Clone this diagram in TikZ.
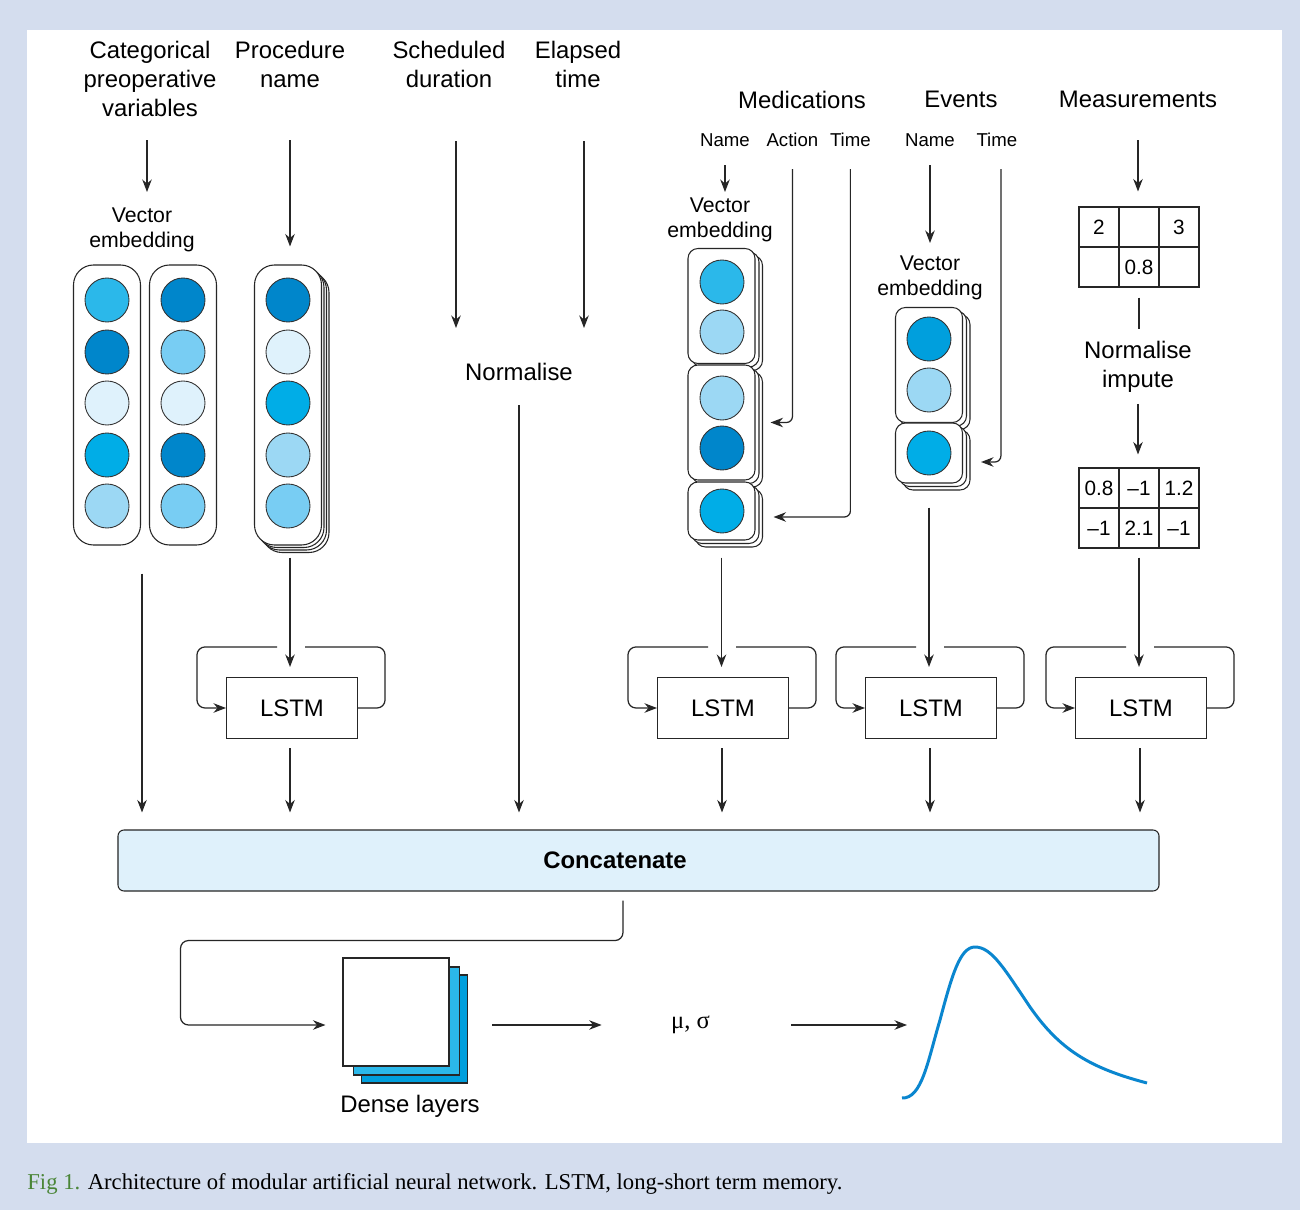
\documentclass[tikz,border=0pt]{standalone}
\usepackage{fontspec}
\setmainfont{Liberation Sans}
\newfontfamily\capserif{Liberation Serif}
\usepackage{tikz}
\usetikzlibrary{arrows.meta,positioning,shadows}
\definecolor{framebg}{HTML}{D4DDEE}
\definecolor{concatfill}{HTML}{DFF1FB}
\definecolor{capgreen}{HTML}{4A8537}
\definecolor{curveblue}{HTML}{0A86CF}
\definecolor{bluedark}{HTML}{0086CB}
\definecolor{bluecyan}{HTML}{00ADE7}
\definecolor{bluemid}{HTML}{2BB8EA}
\definecolor{bluesky}{HTML}{78CDF3}
\definecolor{bluelight}{HTML}{9CD8F4}
\definecolor{bluepale}{HTML}{DFF2FC}
\definecolor{bluedeep}{HTML}{009FDD}
\tikzset{
  head/.style={font=\fontsize{13.6}{16.5}\selectfont, align=center, inner sep=0pt, anchor=north},
  sub/.style={font=\fontsize{10.6}{12.7}\selectfont, inner sep=0pt, anchor=north},
  emb/.style={font=\fontsize{12.1}{14.2}\selectfont, align=center, inner sep=0pt, anchor=north},
  unit/.style={circle, draw=black!80, line width=0.5pt, fill=#1, minimum size=8.8mm, inner sep=0pt},
  vcol/.style={rectangle, draw=black!85, line width=0.6pt, fill=white, rounded corners=4mm,
    minimum width=13.4mm, minimum height=56mm},
  pile/.style={copy shadow={shadow xshift=1.5mm, shadow yshift=-1.5mm},
    copy shadow={shadow xshift=1mm, shadow yshift=-1mm},
    copy shadow={shadow xshift=0.5mm, shadow yshift=-0.5mm}},
  seg/.style={rectangle, draw=black!85, line width=0.6pt, fill=white, rounded corners=2mm,
    minimum width=13.4mm, minimum height=#1,
    copy shadow={shadow xshift=1.5mm, shadow yshift=-1.4mm},
    copy shadow={shadow xshift=0.8mm, shadow yshift=-0.7mm}},
  lstm/.style={rectangle, draw=black!85, line width=0.6pt, fill=white, minimum width=26.2mm,
    minimum height=12.2mm, font=\fontsize{13.6}{16}\selectfont},
  cell/.style={rectangle, draw=black!85, line width=0.6pt, minimum size=8mm, inner sep=0pt,
    font=\fontsize{11.8}{14}\selectfont},
  dense/.style={rectangle, draw=black!85, line width=0.6pt, minimum width=21.2mm,
    minimum height=21.6mm, fill=#1},
  flow/.style={-{Stealth[length=2.5mm,width=1.9mm]}, line width=0.7pt, draw=black!85},
  wire/.style={line width=0.7pt, draw=black!85, rounded corners=1.6mm},
}
% recurrent loop round an LSTM box
\newcommand{\recur}[1]{%
  \draw[wire] (#1.east) -| ([xshift=5.4mm,yshift=6mm]#1.north east) -- ([xshift=2.6mm,yshift=6mm]#1.north);
  \draw[flow, rounded corners=1.6mm] ([xshift=-3mm,yshift=6mm]#1.north) -| ([xshift=-5.8mm]#1.west) -- (#1.west);}

\begin{document}
\begin{tikzpicture}[x=0.2mm, y=-0.2mm]
    \useasboundingbox (0,0) rectangle (1300,1210);
    \fill[framebg] (0,0) rectangle (1300,1210);
    \fill[white] (27,30) rectangle (1282,1143);

    % inputs
    \node[head] (catlbl) at (150,41) {Categorical\\preoperative\\variables};
    \node[head] (proclbl) at (290,41) {Procedure\\name};
    \node[head] (schedlbl) at (449,41) {Scheduled\\duration};
    \node[head] (elapsedlbl) at (578,41) {Elapsed\\time};
    \node[head] (medlbl) at (802,91) {Medications};
    \node[head] (evtlbl) at (961,91) {Events};
    \node[head] (measlbl) at (1138,91) {Measurements};

    \node[sub] (medname) at (725,133) {Name};
    \node[sub, base right=3.2mm of medname] (medact) {Action};
    \node[sub, base right=2.2mm of medact] (medtime) {Time};
    \node[sub] (evtname) at (930,133) {Name};
    \node[sub, base right=4.2mm of evtname] (evttime) {Time};

    \node[emb] (catemb) at (142,208) {Vector\\embedding};
    \node[emb] (medemb) at (720,198) {Vector\\embedding};
    \node[emb] (evtemb) at (930,256) {Vector\\embedding};

    % categorical embedding columns
    \node[vcol] (catA) at (107,405) {};
    \node[vcol] (catB) at (183,405) {};
    \node[unit=bluemid] (catA1) at (107,300) {};
    \node[unit=bluedark] (catA2) at (107,352) {};
    \node[unit=bluepale] (catA3) at (107,403) {};
    \node[unit=bluecyan] (catA4) at (107,455) {};
    \node[unit=bluelight] (catA5) at (107,506) {};
    \node[unit=bluedark] (catB1) at (183,300) {};
    \node[unit=bluesky] (catB2) at (183,352) {};
    \node[unit=bluepale] (catB3) at (183,403) {};
    \node[unit=bluedark] (catB4) at (183,455) {};
    \node[unit=bluesky] (catB5) at (183,506) {};

    % procedure sequence
    \node[vcol, pile] (procbox) at (288,405) {};
    \node[unit=bluedark] (proc1) at (288,300) {};
    \node[unit=bluepale] (proc2) at (288,352) {};
    \node[unit=bluecyan] (proc3) at (288,403) {};
    \node[unit=bluelight] (proc4) at (288,455) {};
    \node[unit=bluesky] (proc5) at (288,506) {};

    % medications sequence
    \node[seg=23mm] (medbox1) at (721.5,306) {};
    \node[seg=23mm] (medbox2) at (721.5,422.5) {};
    \node[seg=11.6mm] (medbox3) at (721.5,511) {};
    \node[unit=bluemid] (med1) at (722,282) {};
    \node[unit=bluelight] (med2) at (722,332) {};
    \node[unit=bluelight] (med3) at (722,398) {};
    \node[unit=bluedark] (med4) at (722,448) {};
    \node[unit=bluecyan] (med5) at (722,511) {};

    % events sequence
    \node[seg=23mm] (evtbox1) at (929,365) {};
    \node[seg=12mm] (evtbox2) at (929,453) {};
    \node[unit=bluedeep] (evt1) at (929,339) {};
    \node[unit=bluelight] (evt2) at (929,390) {};
    \node[unit=bluecyan] (evt3) at (929,453) {};

    % measurements
    \node[cell] (mT11) at (1099,227) {2};
    \node[cell] (mT12) at (1139,227) {};
    \node[cell] (mT13) at (1179,227) {3};
    \node[cell] (mT21) at (1099,267) {};
    \node[cell] (mT22) at (1139,267) {0.8};
    \node[cell] (mT23) at (1179,267) {};
    \node[head] (normimp) at (1138,341) {Normalise\\impute};
    \node[cell] (nT11) at (1099,488) {0.8};
    \node[cell] (nT12) at (1139,488) {–1};
    \node[cell] (nT13) at (1179,488) {1.2};
    \node[cell] (nT21) at (1099,528) {–1};
    \node[cell] (nT22) at (1139,528) {2.1};
    \node[cell] (nT23) at (1179,528) {–1};

    \node[head] (normlbl) at (519,363) {Normalise};

    \node[lstm] (lstmP) at (292,708) {LSTM};
    \node[lstm] (lstmM) at (723,708) {LSTM};
    \node[lstm] (lstmE) at (931,708) {LSTM};
    \node[lstm] (lstmS) at (1141,708) {LSTM};

    \node[rectangle, draw=black!85, line width=0.6pt, fill=concatfill, rounded corners=1.2mm,
      minimum width=208.2mm, minimum height=12.2mm, font=\bfseries\fontsize{13.6}{16}\selectfont]
      (concat) at (638.5,860.5) {Concatenate\hspace*{9.4mm}};

    \node[dense=bluedeep] (denseC) at (414.5,1029) {};
    \node[dense=bluemid] (denseB) at (406.5,1021) {};
    \node[dense=white] (dense) at (396,1012) {};
    \node[head] (denselbl) at (410,1095) {Dense layers};
    \node[inner sep=0pt, minimum width=37.8mm, font=\capserif\fontsize{14}{16}\selectfont]
      (musig) at (696.5,1025) {μ, σ\hspace*{2.4mm}};
    \coordinate (pdfstart) at (907,1025);

    \node[anchor=base west, inner sep=0pt, font=\capserif\fontsize{12.9}{15}\selectfont]
      (caption) at (27,1189) {\textcolor{capgreen}{Fig 1.} Architecture of modular artificial
      neural network. LSTM, long-short term memory.};

    % input arrows
    \draw[flow, shorten <=4.6mm, shorten >=3.2mm] ([xshift=-0.6mm]catlbl.south) -- ([xshift=-0.6mm]catlbl.south |- catemb.north);
    \draw[flow, shorten <=10.4mm, shorten >=3.6mm] (proclbl.south) -- (proclbl.south |- procbox.north);
    \draw[flow, shorten <=10.6mm, shorten >=7mm] ([xshift=1.4mm]schedlbl.south) -- ([xshift=1.4mm]schedlbl.south |- normlbl.north);
    \draw[flow, shorten <=10.6mm, shorten >=7mm] ([xshift=1.2mm]elapsedlbl.south) -- ([xshift=1.2mm]elapsedlbl.south |- normlbl.north);
    \draw[flow, shorten <=6.4mm, shorten >=3mm] (measlbl.south) -- (measlbl.south |- mT12.north);
    \draw[flow, shorten <=3.7mm, shorten >=1.2mm] (medname.south) -- (medname.south |- medemb.north);
    \draw[flow, shorten <=3.7mm, shorten >=2.6mm] (evtname.south) -- (evtname.south |- evtemb.north);
    \draw[flow, rounded corners=1.2mm, shorten <=4.5mm, shorten >=3mm] (medact.south) |- (medbox2.east);
    \draw[flow, rounded corners=1.2mm, shorten <=4.5mm, shorten >=3.6mm] (medtime.south) |- ([yshift=-1.2mm]medbox3.east);
    \draw[flow, rounded corners=1.2mm, shorten <=4.5mm, shorten >=3.6mm] ([xshift=0.8mm]evttime.south) |- ([yshift=-1.8mm]evtbox2.east);
    \draw[wire, shorten <=2mm, shorten >=2.4mm] (mT22.south) -- (mT22.south |- normimp.north);
    \draw[flow, shorten <=2.2mm, shorten >=2.6mm] (normimp.south) -- (normimp.south |- nT12.north);

    % into the LSTMs
    \draw[flow, shorten <=2.4mm, shorten >=2mm] ([xshift=0.4mm]procbox.south) -- ([xshift=0.4mm]procbox.south |- lstmP.north);
    \draw[flow, shorten <=3.4mm, shorten >=2mm] (medbox3.south) -- (medbox3.south |- lstmM.north);
    \draw[flow, shorten <=4.8mm, shorten >=2mm] (evtbox2.south) -- (evtbox2.south |- lstmE.north);
    \draw[flow, shorten <=1.8mm, shorten >=2mm] (nT22.south) -- (nT22.south |- lstmS.north);
    \recur{lstmP}
    \recur{lstmM}
    \recur{lstmE}
    \recur{lstmS}

    % into concatenate
    \draw[flow, shorten <=5.6mm, shorten >=3.4mm] (catemb.south |- catA.south) -- (catemb.south |- concat.north);
    \draw[flow, shorten <=4.8mm, shorten >=3.4mm] (normlbl.south) -- (normlbl.south |- concat.north);
    \draw[flow, shorten <=1.8mm, shorten >=3.4mm] ([xshift=-0.4mm]lstmP.south) -- ([xshift=-0.4mm]lstmP.south |- concat.north);
    \draw[flow, shorten <=1.8mm, shorten >=3.4mm] ([xshift=-0.2mm]lstmM.south) -- ([xshift=-0.2mm]lstmM.south |- concat.north);
    \draw[flow, shorten <=1.8mm, shorten >=3.4mm] ([xshift=-0.2mm]lstmE.south) -- ([xshift=-0.2mm]lstmE.south |- concat.north);
    \draw[flow, shorten <=1.8mm, shorten >=3.4mm] ([xshift=-0.2mm]lstmS.south) -- ([xshift=-0.2mm]lstmS.south |- concat.north);

    % output
    \draw[flow, rounded corners=1.6mm, shorten <=1.8mm, shorten >=3.4mm] ([xshift=-3.1mm]concat.south)
      -- ++(0,-9.8mm) -| ([xshift=-32.4mm,yshift=-2.6mm]dense.west) -- ([yshift=-2.6mm]dense.west);
    \draw[flow, shorten <=4.8mm] (denseC.east |- musig.west) -- (musig.west);
    \draw[flow] (musig.east) -- (pdfstart);
    \draw[curveblue, line width=1.7pt] (902,1098) .. controls (922,1099) and (928,1060) .. (940,1020)
      .. controls (952,975) and (960,947) .. (975,947) .. controls (992,947) and (1005,970) .. (1030,1007)
      .. controls (1060,1050) and (1090,1068) .. (1147,1083);
\end{tikzpicture}
\end{document}
